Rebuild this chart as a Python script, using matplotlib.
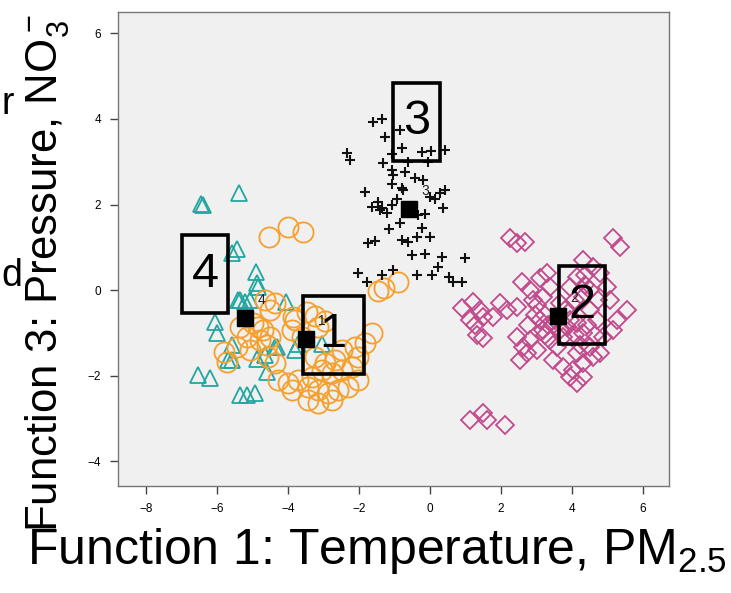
import matplotlib
matplotlib.use("Agg")
import matplotlib.pyplot as plt
from matplotlib.patches import Rectangle

plt.rcParams['font.family'] = ['Liberation Sans', 'DejaVu Sans']
plt.rcParams['mathtext.fontset'] = 'custom'
plt.rcParams['mathtext.rm'] = 'Liberation Sans'
plt.rcParams['mathtext.it'] = 'Liberation Sans:italic'
plt.rcParams['mathtext.bf'] = 'Liberation Sans:bold'

# group 1 - orange circles
g1_x = [-4.54, -4.00, -3.58, -1.46, -1.30, -0.90, -4.65, -4.37, -4.51, -5.35,
        -4.99, -4.70, -4.51, -5.15, -4.79, -4.59, -5.44, -5.80, -5.72, -5.07,
        -4.85, -3.86, -3.80, -3.46, -3.24, -2.96, -3.15, -3.89, -3.61, -1.63,
        -1.83, -2.11, -2.03, -3.24, -2.96, -2.68, -2.48, -3.04, -2.76, -2.48,
        -2.20, -4.28, -4.00, -3.72, -3.89, -3.32, -3.44, -3.15, -2.87, -2.59,
        -2.31, -2.03, -3.44, -3.15, -2.76, -4.37, -4.56]
g1_y = [1.24, 1.47, 1.36, -0.02, 0.05, 0.19, -0.23, -0.30, -0.47, -0.86,
        -0.77, -0.93, -1.10, -1.10, -1.17, -1.29, -1.33, -1.45, -1.68, -1.40,
        -0.86, -0.63, -0.70, -0.51, -0.61, -0.72, -0.86, -0.93, -1.10, -1.00,
        -1.24, -1.33, -1.57, -1.57, -1.71, -1.64, -1.40, -1.87, -1.94, -1.87,
        -1.80, -2.10, -2.17, -2.10, -2.34, -2.03, -2.27, -2.34, -2.41, -2.34,
        -2.27, -2.10, -2.57, -2.64, -2.57, -1.71, -1.57]

# group 2 - magenta diamonds
g2_x = [2.25, 2.45, 2.68, 5.15, 5.35, 2.59, 0.90, 1.21, 1.41, 1.49,
        1.27, 1.32, 1.49, 1.13, 1.77, 2.17, 2.45, 2.82, 3.10, 3.30,
        3.38, 3.18, 2.90, 4.31, 4.59, 4.79, 4.99, 5.07, 5.55, 5.27,
        5.15, 4.87, 2.45, 2.62, 2.82, 3.01, 2.54, 2.73, 3.18, 3.38,
        3.58, 3.75, 3.86, 4.14, 4.31, 4.51, 4.14, 3.46, 3.75, 4.03,
        4.31, 4.59, 4.79, 3.94, 4.14, 4.31, 3.66, 3.94, 4.14, 4.31,
        4.51, 4.70, 1.13, 1.49, 1.61, 2.11, 1.97, 3.24, 3.52, 3.80,
        4.08, 4.37, 3.32, 3.10, 3.24, 3.46, 3.66, 3.94, 4.08, 4.23,
        4.42, 4.65, 4.37, 4.51, 4.73, 2.96, 2.76, 3.01]
g2_y = [1.21, 1.10, 1.12, 1.21, 1.00, 0.19, -0.42, -0.28, -0.47, -0.63,
        -0.82, -1.05, -1.12, -0.70, -0.63, -0.47, -0.40, 0.00, 0.28, 0.40,
        0.07, -0.16, -0.23, 0.70, 0.54, 0.40, 0.07, -0.23, -0.47, -0.70,
        -0.93, -1.10, -1.10, -1.33, -1.17, -1.40, -1.64, -1.47, -0.93, -1.17,
        -1.33, -1.10, -0.86, -0.77, -1.00, -1.33, -1.47, -1.64, -1.80, -1.87,
        -1.71, -1.57, -1.47, -2.03, -2.17, -2.03, -0.30, 0.07, 0.30, -0.16,
        -0.47, -0.70, -3.04, -2.87, -3.04, -3.15, -0.30, -0.58, -0.70, -0.47,
        -0.23, 0.12, -0.82, -0.70, -1.05, -0.82, -0.93, -0.70, -1.05, -1.29,
        -0.82, -1.05, 0.35, 0.00, -0.23, -0.58, -0.82, -0.35]

# group 3 - black crosses
g3_x = [-1.60, -1.36, -1.27, -0.85, -2.35, -2.25, -0.80, -1.08, -0.23, 0.02,
        0.42, -0.61, -0.05, -1.33, -1.08, -1.03, -0.70, -0.42, -0.19, -1.08,
        -0.80, -0.75, -1.83, 0.00, 0.14, 0.28, 0.42, 0.37, -0.94, -1.64,
        -1.46, -1.36, -1.22, -1.08, -1.41, -0.33, -0.14, -0.85, -1.17, -0.23,
        -0.37, 0.00, -1.74, -1.55, -0.80, -0.61, -0.52, -0.14, 0.33, 0.99,
        0.23, -2.02, -1.78, -1.36, -1.03, -0.37, 0.05, 0.52, 0.66, 0.89]
g3_y = [3.93, 3.99, 3.57, 3.74, 3.21, 3.05, 3.31, 3.19, 3.23, 3.25,
        3.27, 3.00, 3.00, 2.96, 2.80, 2.69, 2.76, 2.61, 2.57, 2.49,
        2.38, 2.34, 2.30, 2.18, 2.14, 2.26, 2.34, 1.93, 2.14, 1.95,
        2.06, 1.91, 1.79, 1.99, 1.87, 1.75, 1.78, 1.56, 1.42, 1.44,
        1.25, 1.25, 1.09, 1.15, 1.17, 1.13, 0.82, 0.84, 0.78, 0.76,
        0.54, 0.39, 0.19, 0.35, 0.48, 0.35, 0.35, 0.31, 0.19, 0.19]

# group 4 - teal triangles
g4_x = [-6.44, -6.40, -5.37, -5.45, -5.59, -4.90, -4.86, -5.35, -5.21, -5.07,
        -4.06, -6.06, -6.01, -5.59, -5.59, -4.88, -4.65, -4.32, -3.80, -3.05,
        -4.60, -6.53, -6.20, -5.35, -5.16, -4.93, -5.68, -4.37, -3.71, -4.88,
        -5.40]
g4_y = [2.02, 1.98, 2.26, 0.97, 0.86, 0.43, 0.08, -0.23, -0.27, -0.23,
        -0.27, -0.74, -1.01, -1.29, -1.64, -1.60, -1.52, -1.32, -1.40, -1.25,
        -1.91, -1.99, -2.06, -2.45, -2.45, -2.41, -1.64, -1.32, -1.25, 0.16,
        -0.23]

# group centroids
cent_x = [-3.5, 3.6, -0.6, -5.2]
cent_y = [-1.15, -0.6, 1.9, -0.65]
cent_labels = ["1", "2", "3", "4"]

# big boxed group labels (centre x, centre y, box width)
box_labels = ["1", "2", "3", "4"]
box_x = [-2.73, 4.28, -0.39, -6.34]
box_y = [-1.05, -0.35, 3.93, 0.37]
box_w = [1.72, 1.32, 1.32, 1.32]
box_h = 1.82

fig = plt.figure(figsize=(7.31, 5.93), dpi=100)
ax = fig.add_axes([0.1614, 0.1804, 0.7538, 0.7994])
ax.set_facecolor('#f0f0f0')

ax.plot(g4_x, g4_y, ls='none', marker='^', ms=12, mfc='none', mec='#22a6a2', mew=1.3)
ax.plot(g1_x, g1_y, ls='none', marker='o', ms=14.5, mfc='none', mec='#f5a02c', mew=1.3)
ax.plot(g2_x, g2_y, ls='none', marker='D', ms=9.5, mfc='none', mec='#c24a8c', mew=1.3)
ax.plot(g3_x, g3_y, ls='none', marker='+', ms=7, mec='#111111', mew=1.5)

ax.plot(cent_x, cent_y, ls='none', marker='s', ms=11, mfc='black', mec='black', zorder=5)
for cx, cy, lab in zip(cent_x, cent_y, cent_labels):
    ax.annotate(lab, (cx, cy), xytext=(9, 10), textcoords='offset points',
                fontsize=10, color='#222222', zorder=6)

for lab, bx, by, bw in zip(box_labels, box_x, box_y, box_w):
    ax.add_patch(Rectangle((bx - bw / 2, by - box_h / 2), bw, box_h,
                           fill=False, ec='black', lw=2.6, zorder=7))
    ax.text(bx, by, lab, ha='center', va='center', fontsize=35, zorder=8)

ax.set_xlim(-8.79, 6.73)
ax.set_ylim(-4.58, 6.5)
ax.set_xticks([-8, -6, -4, -2, 0, 2, 4, 6])
ax.set_yticks([-4, -2, 0, 2, 4, 6])
ax.tick_params(direction='out', length=6, width=1, color='#444444',
               labelsize=8.5, pad=6)
for s in ax.spines.values():
    s.set_color('#777777')
    s.set_linewidth(1)

fig.text(0.516, 0.028, r"Function 1: Temperature, $\mathrm{PM}_{2.5}$",
         ha='center', va='bottom', fontsize=36)
fig.text(0.064, 0.54, r"Function 3: Pressure, $\mathrm{NO}_3^-$",
         ha='center', va='center', rotation=90, fontsize=31.5)

# clipped words from the neighbouring slide text
fig.text(0.002, 0.825, "r", ha='left', va='center', fontsize=27)
fig.text(0.002, 0.535, "d", ha='left', va='center', fontsize=27)

fig.savefig("out.png", dpi=100)
